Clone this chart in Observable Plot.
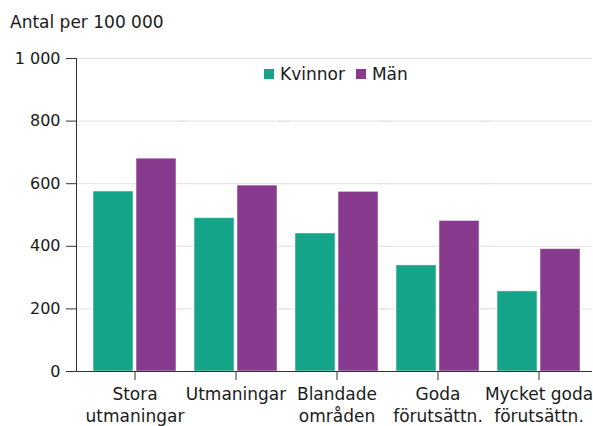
<!DOCTYPE html>
<html><head><meta charset="utf-8">
<script src="https://cdn.jsdelivr.net/npm/d3@7"></script>
<script src="https://cdn.jsdelivr.net/npm/@observablehq/plot@0.6"></script>
<style>
body{margin:0;background:#fff;font-family:"DejaVu Sans",Verdana,sans-serif;overflow:hidden;}
#wrap{position:relative;width:593px;height:426px;}
#title{position:absolute;left:10px;top:12px;font-size:17px;color:#1a1a1a;}
#legend{position:absolute;left:264px;top:57px;}
#legend [class$="-swatch"]{margin-right:11px !important;}
#legend [class$="-swatch"] > svg{margin-right:6px !important;}
</style></head><body>
<div id="wrap"><div id="chart"></div><div id="title">Antal per 100 000</div><div id="legend"></div></div>
<script>
const categories = ["Stora\nutmaningar","Utmaningar","Blandade\nområden","Goda\nförutsättn.","Mycket goda\nförutsättn."];
const series = ["Kvinnor","Män"];
const kvinnor = [575,490,441,339,256];
const man = [680,594,574,481,391];
const yTicks = [0,200,400,600,800,1000];
const colors = ["#14a487","#883b8e"];

const data = categories.flatMap((c,i)=>[
  {cat:c, sex:series[0], value:kvinnor[i]},
  {cat:c, sex:series[1], value:man[i]}
]);
const fmt = d3.formatLocale({thousands:" ", grouping:[3], decimal:",", currency:["",""]}).format(",d");
const font = "DejaVu Sans, Verdana, sans-serif";
const axisOff = -8;
const chart = Plot.plot({
  width:593, height:426, marginLeft:82, marginRight:3, marginTop:58, marginBottom:55,
  style:{fontFamily:font, fontSize:"16px", color:"#1a1a1a", background:"white", overflow:"visible"},
  fx:{domain:categories, paddingInner:0, paddingOuter:0, label:null},
  x:{domain:series, paddingInner:0.076, paddingOuter:0.212, axis:null},
  y:{domain:[0,1000]},
  color:{domain:series, range:colors},
  marks:[
    Plot.gridY(yTicks, {stroke:"#e3e3e3", strokeOpacity:1, insetLeft:axisOff, insetRight:-3}),
    Plot.barY(data, {fx:"cat", x:"sex", y:"value", fill:"sex", stroke:"white", strokeOpacity:0.5, strokeWidth:1}),
    Plot.ruleY([0], {stroke:"#333", insetLeft:axisOff, insetRight:-3}),
    Plot.axisY(yTicks, {tickFormat:fmt, tickSize:10, tickPadding:6, label:null, stroke:"#333", dx:axisOff}),
    Plot.frame({anchor:"left", facetAnchor:"left", stroke:"#333", dx:axisOff}),
    Plot.axisFx({anchor:"bottom", tickSize:9, tickPadding:4, label:null, lineHeight:1.3, fontSize:17, stroke:"#333"})
  ]
});
document.getElementById("chart").appendChild(chart);
const leg = Plot.legend({color:{domain:series, range:colors}, swatchSize:10, style:{fontFamily:font, fontSize:"17px", color:"#1a1a1a"}});
document.getElementById("legend").appendChild(leg);
</script>
</body></html>
